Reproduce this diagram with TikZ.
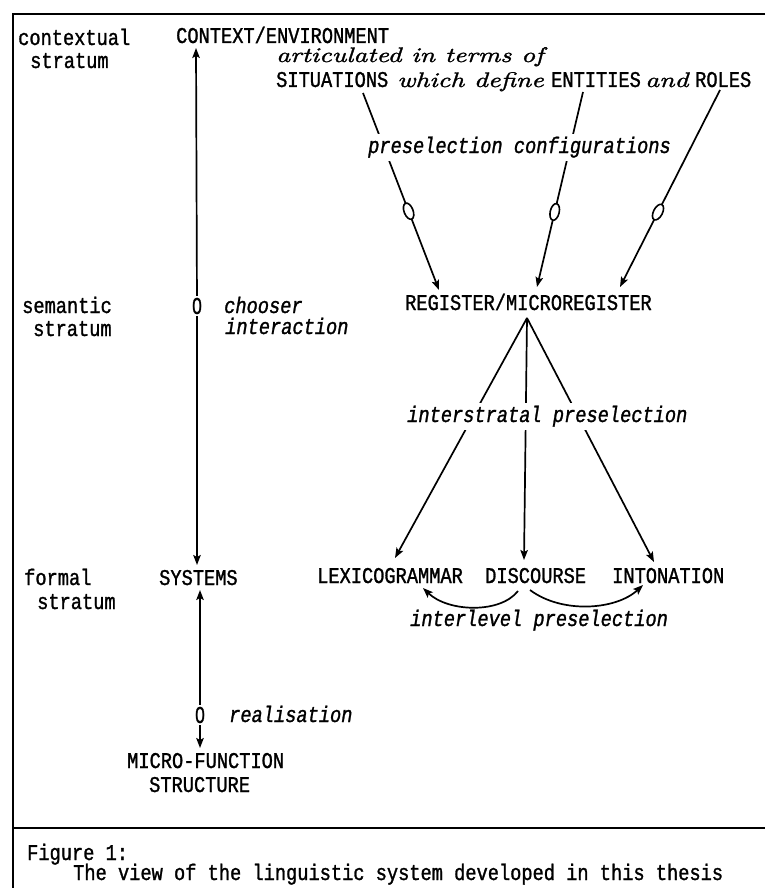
\documentclass[tikz,border=0pt]{standalone}
\usepackage{fontspec}
\newfontfamily\monof[FakeStretch=0.83,FakeBold=1.2]{Liberation Mono}
\newfontfamily\zerof[FakeStretch=0.75,FakeBold=1.2]{Liberation Sans}
\newfontfamily\scrf[Extension=.otf,FakeStretch=1.3,FakeBold=1.5]{lmroman10-italic}
\newcommand\twf{\monof\fontsize{22.5}{24}\selectfont}
\newcommand\scrfont{\scrf\fontsize{21}{23}\selectfont}
\usetikzlibrary{arrows.meta,backgrounds,calc,shapes.geometric}
\begin{document}
\begin{tikzpicture}[x=1pt,y=-1pt,
  lab/.style={font=\twf, inner sep=0pt, anchor=base west},
  itl/.style={font=\twf\itshape, inner sep=3pt, fill=white, anchor=base west},
  scr/.style={font=\scrfont, inner sep=0pt, anchor=base west},
  zero/.style={font=\zerof\fontsize{23}{24}\selectfont, fill=white, inner sep=1.5pt},
  con/.style={line width=1.7pt},
  arr/.style={con, -{Stealth[length=10pt,width=7.5pt,inset=2pt]}},
  oval/.style={draw, line width=1.6pt, fill=white, ellipse, minimum width=17pt, minimum height=9pt, inner sep=0pt, sloped},
  frame/.style={line width=1.9pt}
]
\useasboundingbox (0,0) rectangle (765,888);
\begin{pgfonlayer}{background}
\fill[white] (0,0) rectangle (765,888);
\end{pgfonlayer}

% frame
\draw[frame] (765,14) -- (13,14) -- (13,888);
\draw[frame] (13,828) -- (765,828);

% stratum labels
\node[lab] (cx1) at (18,45) {contextual};
\node[lab] (cx2) at (30,68) {stratum};
\node[lab] (se1) at (22,313) {semantic};
\node[lab] (se2) at (33,336) {stratum};
\node[lab] (fo1) at (24,585) {formal};
\node[lab] (fo2) at (37,609) {stratum};

% contextual stratum
\node[lab] (ctx) at (176,43) {CONTEXT/ENVIRONMENT};
\node[scr] (art) at (276,62) {articulated in terms of};
\node[lab] (sit) at (276,87) {SITUATIONS};
\node[scr] (wd) at (397,87) {which define};
\node[lab] (ent) at (551,87) {ENTITIES};
\node[scr] (andw) at (645,87) {and};
\node[lab] (rol) at (695,87) {ROLES};
\node[itl] (pc) at (365,153) {preselection configurations};

% semantic stratum
\node[lab] (reg) at (405,310) {REGISTER/MICROREGISTER};
\node[zero] (o1) at (197,306) {0};
\node[lab, font=\twf\itshape] (ch1) at (224,313) {chooser};
\node[lab, font=\twf\itshape] (ch2) at (225,334) {interaction};
\node[itl] (isp) at (404,422) {interstratal preselection};

% formal stratum
\node[lab] (sys) at (159,585) {SYSTEMS};
\node[lab] (lex) at (317,583) {LEXICOGRAMMAR};
\node[lab] (disc) at (485,583) {DISCOURSE};
\node[lab] (into) at (612,583) {INTONATION};
\node[itl, fill=none] (ilp) at (407,626) {interlevel preselection};

% realisation
\node[zero] (o2) at (200,715) {0};
\node[lab, font=\twf\itshape] (rea) at (229,722) {realisation};
\node[lab] (mic) at (127,768) {MICRO-FUNCTION};
\node[lab] (str) at (149,792) {STRUCTURE};

% caption
\node[lab] (fig) at (27,860) {Figure 1:};
\node[lab] (cap) at (73,880) {The view of the linguistic system developed in this thesis};

\begin{pgfonlayer}{background}
% preselection configurations
\draw[arr] ($(sit.base west)+(87,6)$) -- node[pos=0.6, oval]{} ($(reg.base west)+(34,-20)$);
\draw[arr] ($(ent.base west)+(32,5)$) -- node[pos=0.615, oval]{} ($(reg.base west)+(132,-23)$);
\draw[arr] ($(rol.base west)+(25,3)$) -- node[pos=0.62, oval]{} ($(reg.base west)+(215,-23)$);
% interstratal
\draw[arr] ($(reg.base west)+(122,8)$) -- ($(lex.base west)+(78,-25)$);
\draw[arr] ($(reg.base west)+(122,8)$) -- ($(disc.base west)+(39,-23)$);
\draw[arr] ($(reg.base west)+(122,8)$) -- ($(into.base west)+(42,-21)$);
% chooser
\draw[arr] (o1) -- ($(ctx.base west)+(20,5)$);
\draw[arr] (o1) -- ($(sys.base west)+(38,-20)$);
% realisation
\draw[arr] (o2) -- ($(sys.base west)+(41,5)$);
\draw[arr] (o2) -- ($(mic.base west)+(73,-20)$);
% interlevel
\draw[arr] ($(disc.base west)+(33,8)$) .. controls (500,614) and (448,612) .. ($(lex.base west)+(106,5)$);
\draw[arr] ($(disc.base west)+(45,7)$) .. controls (562,614) and (616,610) .. ($(into.base west)+(31,2)$);
\end{pgfonlayer}
\end{tikzpicture}
\end{document}
